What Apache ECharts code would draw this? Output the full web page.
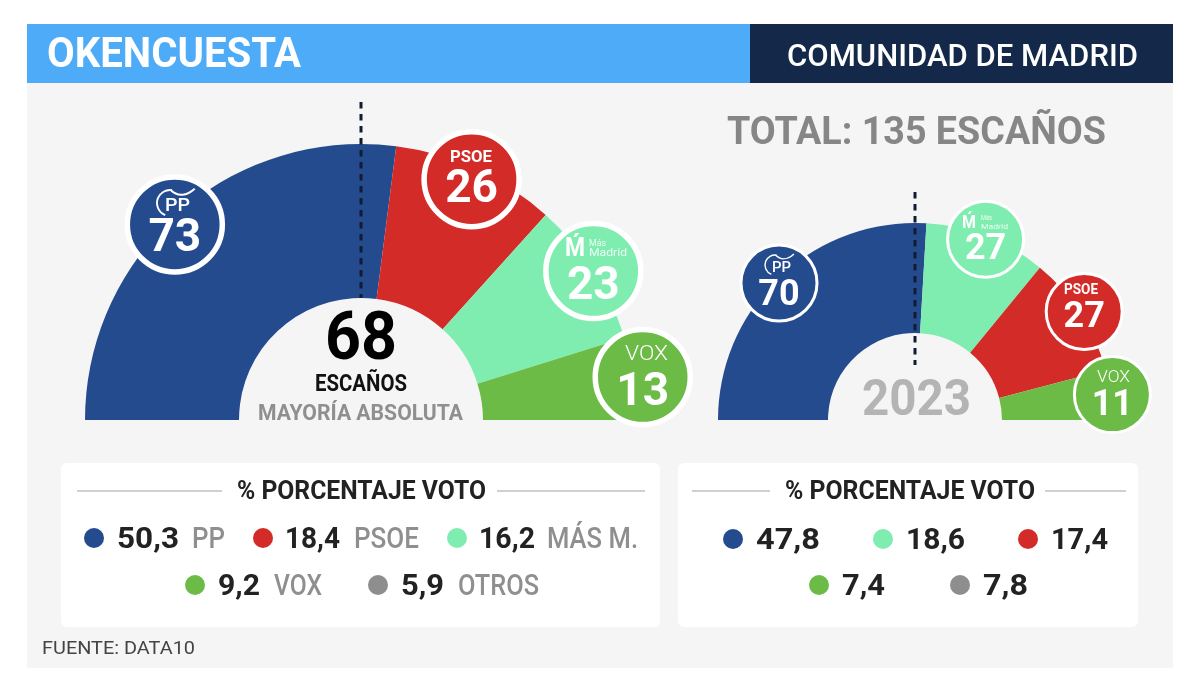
<!DOCTYPE html>
<html><head><meta charset="utf-8">
<style>html,body{margin:0;padding:0;background:#fff}#c{width:1200px;height:697px}</style>
<script src="https://cdn.jsdelivr.net/npm/echarts@6/dist/echarts.min.js"></script>
</head><body><div id="c"></div>
<script>
// ---- data ----
const parties2025 = ['PP', 'PSOE', 'Más Madrid', 'VOX'];
const seats2025 = [73, 26, 23, 13];
const parties2023 = ['PP', 'Más Madrid', 'PSOE', 'VOX'];
const seats2023 = [70, 27, 27, 11];
const totalSeats = 135;
const voteLabels = ['PP', 'PSOE', 'MÁS M.', 'VOX', 'OTROS'];
const vote2025 = ['50,3', '18,4', '16,2', '9,2', '5,9'];
const vote2023 = ['47,8', '18,6', '17,4', '7,4', '7,8'];

// ---- styling / layout ----
const colors = {PP:'#254b8f', PSOE:'#d32b27', 'Más Madrid':'#80edb0', VOX:'#6bbb46', OTROS:'#8e8e8e'};
const voteColorKeys2025 = ['PP','PSOE','Más Madrid','VOX','OTROS'];
const voteColorKeys2023 = ['PP','Más Madrid','PSOE','VOX','OTROS'];
const FONT = 'Roboto';
const big = {cx:361, cy:420, inner:122, outer:276, polarR:320, size:95, border:5.5, font:46,
  bubbleR:[270,265,276,285], angleShift:[-1.7,0,0,0], labelDy:[15,11,16,16]};
const small = {cx:915, cy:420, inner:87, outer:197, polarR:240, size:76, border:3, font:36,
  bubbleR:[193,194,201,199], angleShift:[-1.1,0,0,0], labelDy:[13,11,6,11]};

const ctx = document.createElement('canvas').getContext('2d');
// text fitted to a span [x0,x1] at vertical centre y
function fit(str, x0, x1, y, size, weight, fill, z) {
  const font = weight + ' ' + size + 'px ' + FONT;
  ctx.font = font;
  const w = ctx.measureText(str).width;
  return {type:'text', x:x0, y:y + size*0.085, scaleX:(x1-x0)/w, z:z||50, silent:true,
    style:{text:str, x:0, y:0, font:font, fill:fill, align:'left', verticalAlign:'middle'}};
}
function rect(x,y,w,h,fill,r){return {type:'rect',z:0,silent:true,shape:{x,y,width:w,height:h,r:r||0},style:{fill}};}
function hline(x0,x1,y,stroke,width){return {type:'line',z:40,silent:true,shape:{x1:x0,y1:y,x2:x1,y2:y},style:{stroke,lineWidth:width}};}
function vdash(x,y0,y1){return {type:'line',z:40,silent:true,shape:{x1:x,y1:y0,x2:x,y2:y1},style:{stroke:'#111c33',lineWidth:3,lineDash:[6.5,5.5]}};}
function dot(x,y,fill){return {type:'circle',z:40,silent:true,shape:{cx:x,cy:y,r:10},style:{fill}};}
function ppLogo(x,y,r){ // arc + leaf of the PP logo
  return [
    {type:'arc',z:50,silent:true,shape:{cx:x,cy:y,r:r,startAngle:Math.PI*0.62,endAngle:Math.PI*1.55,clockwise:true},style:{stroke:'#fff',lineWidth:Math.max(1.4,r/7),fill:'none'}},
    {type:'bezierCurve',z:50,silent:true,shape:{x1:x+r*0.05,y1:y-r*1.0,x2:x+r*1.9,y2:y-r*1.1,cpx1:x+r*0.6,cpy1:y-r*0.45,cpx2:x+r*1.3,cpy2:y-r*0.55},style:{stroke:'#fff',lineWidth:Math.max(1.4,r/7),fill:'none'}}
  ];
}

const graphics = [
  rect(27,83,1146,585,'#f5f5f5'),
  rect(27,24,723,59,'#4dabf8'),
  rect(750,24,423,59,'#14284a'),
  fit('OKENCUESTA',47,301,53,42,'700','#fff'),
  fit('COMUNIDAD DE MADRID',787,1138,56,31,'500','#fff'),
  fit('TOTAL: 135 ESCAÑOS',727,1106,131,39,'700','#868686'),
  vdash(361,102,298),
  vdash(915,192,365),
  fit('68',325,397,337,66,'700','#000'),
  fit('ESCAÑOS',315,407,383,23,'700','#111'),
  fit('MAYORÍA ABSOLUTA',258,463,413,22,'700','#8f8f8f'),
  fit('2023',862,971,398,50,'700','#b4b4b4'),
  // logos in the bubbles
  fit('PSOE',450,492,156,17,'700','#fff'),
  fit('PP',165,190,205,19,'500','#fff'),
  ...ppLogo(170,203,13),
  fit('Ḿ',565,585,248,25,'700','#fff'),
  fit('Más',589,606,243,9,'400','#e9fff3'),
  fit('Madrid',589,627,253,10,'400','#e9fff3'),
  fit('VOX',625,668,353,21,'300','#fff'),
  fit('PSOE',1064,1098,289,14,'700','#fff'),
  fit('PP',772,791,267,15,'500','#fff'),
  ...ppLogo(775,265,10),
  fit('Ḿ',962,976,222,18,'700','#fff'),
  fit('Más',981,992,218,7,'400','#e9fff3'),
  fit('Madrid',981,1008,227,7,'400','#e9fff3'),
  fit('VOX',1097,1130,377,16,'300','#fff'),
  // vote panels
  rect(61,463,599,164,'#fff',6),
  rect(678,463,460,164,'#fff',6),
  hline(77,222,491,'#d0d0d0',2), hline(497,645,491,'#d0d0d0',2),
  hline(692,770,491,'#d0d0d0',2), hline(1045,1126,491,'#d0d0d0',2),
  fit('% PORCENTAJE VOTO',237,486,491,25,'700','#222'),
  fit('% PORCENTAJE VOTO',785,1035,491,25,'700','#222'),
  fit('FUENTE: DATA10',42,195,648,18,'400','#444')
];
// left vote panel: [dot x, value x0, x1, label x0, x1, row y]
const leftRows = [[94,117,179,192,225,538],[263,285,340,354,419,538],[457,479,535,547,638,538],[195,218,260,274,322,585],[378,401,444,458,539,585]];
leftRows.forEach((r,i)=>{
  graphics.push(dot(r[0],r[5],colors[voteColorKeys2025[i]]));
  graphics.push(fit(vote2025[i],r[1],r[2],r[5],29,'700','#222'));
  graphics.push(fit(voteLabels[i],r[3],r[4],r[5],29,'500','#8f8f8f'));
});
const rightRows = [[733,756,820,539],[883,906,965,539],[1028,1051,1108,539],[819,842,885,585],[960,983,1028,585]];
rightRows.forEach((r,i)=>{
  graphics.push(dot(r[0],r[3],colors[voteColorKeys2023[i]]));
  graphics.push(fit(vote2023[i],r[1],r[2],r[3],29,'700','#222'));
});

function pie(names, values, g) {
  return {type:'pie', silent:true, animation:false, center:[g.cx,g.cy], radius:[g.inner,g.outer],
    startAngle:180, endAngle:0, clockwise:true, sort:null, label:{show:false}, labelLine:{show:false},
    emphasis:{disabled:true}, percentPrecision:4, z:2,
    data:names.map((n,i)=>({name:n, value:values[i], itemStyle:{color:colors[n]}}))};
}
function bubbles(names, values, g, polarIndex) {
  let run = 0;
  const data = names.map((n,i)=>{
    const mid = run + values[i]/2 + g.angleShift[i]; run += values[i];
    return {name:n, value:[g.bubbleR[i], mid], seats:values[i],
      itemStyle:{color:colors[n], opacity:1, borderColor:'#fff', borderWidth:g.border},
      label:{offset:[0,g.labelDy[i]]}};
  });
  return {type:'scatter', coordinateSystem:'polar', polarIndex, clip:false, silent:true, animation:false,
    symbol:'circle', symbolSize:g.size, z:10, emphasis:{disabled:true},
    label:{show:true, position:'inside', color:'#fff', fontFamily:FONT, fontWeight:700, fontSize:g.font,
      formatter:p=>String(p.data.seats)},
    data};
}
const halfCircle = totalSeats*2;
const chart = echarts.init(document.getElementById('c'), null, {renderer:'canvas'});
chart.setOption({
  animation:false,
  backgroundColor:'#fff',
  polar:[{center:[big.cx,big.cy],radius:big.polarR},{center:[small.cx,small.cy],radius:small.polarR}],
  angleAxis:[
    {polarIndex:0,type:'value',min:0,max:halfCircle,startAngle:180,clockwise:true,show:false},
    {polarIndex:1,type:'value',min:0,max:halfCircle,startAngle:180,clockwise:true,show:false}],
  radiusAxis:[
    {polarIndex:0,type:'value',min:0,max:big.polarR,show:false},
    {polarIndex:1,type:'value',min:0,max:small.polarR,show:false}],
  graphic:graphics,
  series:[pie(parties2025,seats2025,big), pie(parties2023,seats2023,small),
    bubbles(parties2025,seats2025,big,0), bubbles(parties2023,seats2023,small,1)]
});
</script></body></html>
